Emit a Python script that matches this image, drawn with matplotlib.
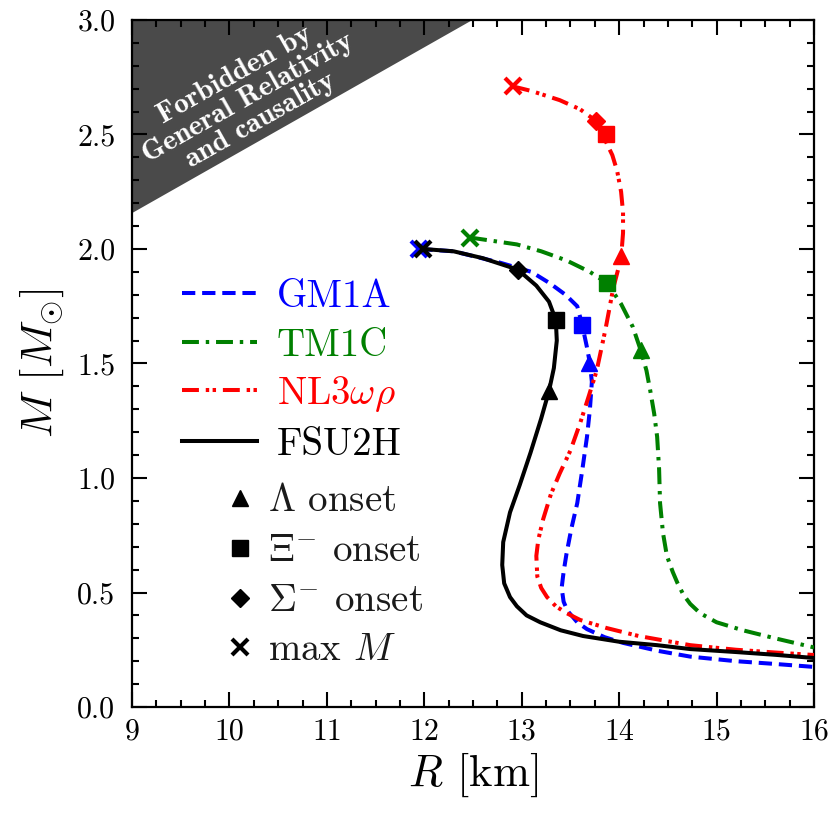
import numpy as np
import matplotlib
matplotlib.use("Agg")
import matplotlib.pyplot as plt

plt.rcParams['font.family'] = 'serif'
plt.rcParams['font.serif'] = ['cmr10']
plt.rcParams['mathtext.fontset'] = 'cm'
plt.rcParams['axes.formatter.use_mathtext'] = True

# ---------------- data ----------------
R_fsu = [11.99, 12.3, 12.6, 12.96, 13.15, 13.28, 13.35, 13.36, 13.33, 13.28, 13.2, 13.09, 12.98,
         12.88, 12.81, 12.80, 12.82, 12.88, 12.95, 13.05, 13.19, 13.40, 13.63, 14.0, 14.39, 14.73,
         15.2, 15.6, 16.0]
M_fsu = [2.00, 1.99, 1.96, 1.91, 1.84, 1.77, 1.69, 1.60, 1.48, 1.38, 1.26, 1.11, 0.97,
         0.85, 0.72, 0.62, 0.54, 0.48, 0.44, 0.40, 0.37, 0.335, 0.31, 0.285, 0.27, 0.253,
         0.24, 0.228, 0.214]

R_gm1 = [11.95, 12.3, 12.78, 13.1, 13.29, 13.45, 13.57, 13.62, 13.67, 13.70, 13.72, 13.70, 13.67,
         13.62, 13.57, 13.51, 13.46, 13.43, 13.41, 13.43, 13.47, 13.57, 13.67, 13.85, 14.04, 14.4,
         14.73, 15.2, 15.6, 16.0]
M_gm1 = [2.00, 1.99, 1.94, 1.90, 1.85, 1.80, 1.75, 1.67, 1.57, 1.50, 1.42, 1.30, 1.18,
         1.03, 0.89, 0.78, 0.67, 0.59, 0.52, 0.46, 0.42, 0.37, 0.34, 0.305, 0.28, 0.245,
         0.22, 0.20, 0.188, 0.175]

R_tm1 = [12.47, 12.95, 13.2, 13.46, 13.7, 13.88, 14.02, 14.14, 14.22, 14.28, 14.32, 14.36, 14.39,
         14.41, 14.42, 14.45, 14.49, 14.55, 14.60, 14.66, 14.73, 14.83, 15.0, 15.27, 15.6, 16.0]
M_tm1 = [2.05, 2.02, 1.99, 1.95, 1.90, 1.85, 1.76, 1.66, 1.56, 1.47, 1.38, 1.28, 1.18,
         1.04, 0.89, 0.76, 0.66, 0.59, 0.54, 0.49, 0.45, 0.41, 0.37, 0.335, 0.30, 0.26]

R_nl3 = [12.91, 13.1, 13.39, 13.6, 13.76, 13.84, 13.93, 13.98, 14.02, 14.04, 14.04, 14.02, 13.94,
         13.86, 13.77, 13.69, 13.60, 13.50, 13.39, 13.30, 13.22, 13.17, 13.15, 13.16, 13.20, 13.26,
         13.35, 13.46, 13.6, 13.87, 14.2, 14.73, 15.2, 15.6, 16.0]
M_nl3 = [2.71, 2.69, 2.65, 2.61, 2.56, 2.49, 2.41, 2.34, 2.25, 2.16, 2.07, 1.96, 1.83,
         1.65, 1.47, 1.36, 1.24, 1.12, 1.02, 0.93, 0.82, 0.73, 0.66, 0.57, 0.52, 0.48,
         0.44, 0.41, 0.38, 0.345, 0.31, 0.27, 0.25, 0.238, 0.227]

# onset markers: (R, M)
lam_R = {'GM1A': 13.69, 'TM1C': 14.22, 'NL3': 14.02, 'FSU2H': 13.28}
lam_M = {'GM1A': 1.50, 'TM1C': 1.56, 'NL3': 1.97, 'FSU2H': 1.38}
xi_R = {'GM1A': 13.62, 'TM1C': 13.88, 'NL3': 13.86, 'FSU2H': 13.35}
xi_M = {'GM1A': 1.67, 'TM1C': 1.85, 'NL3': 2.50, 'FSU2H': 1.69}
sig_R = {'NL3': 13.76, 'FSU2H': 12.96}
sig_M = {'NL3': 2.56, 'FSU2H': 1.91}
max_R = {'GM1A': 11.95, 'TM1C': 12.47, 'NL3': 12.91, 'FSU2H': 11.99}
max_M = {'GM1A': 2.00, 'TM1C': 2.05, 'NL3': 2.71, 'FSU2H': 2.00}

forb_R = [9.0, 12.48]
forb_M = [2.16, 3.0]

series = ['GM1A', 'TM1C', 'NL3', 'FSU2H']
series_labels = ['GM1A', 'TM1C', r'NL3$\omega\rho$', 'FSU2H']
marker_labels = [r'$\Lambda$ onset', r'$\Xi^{-}$ onset', r'$\Sigma^{-}$ onset', r'max $M$']

# ---------------- figure ----------------
W = 830
fig = plt.figure(figsize=(8.3, 8.3), dpi=100)
AX_L, AX_R, AX_T, AX_B = 132, 814, 20, 707
ax = fig.add_axes([AX_L / W, 1 - AX_B / W, (AX_R - AX_L) / W, (AX_B - AX_T) / W])


def axx(px):
    return (px - AX_L) / (AX_R - AX_L)


def axy(py):
    return (AX_B - py) / (AX_B - AX_T)


ax.fill_between(forb_R, forb_M, [3.0, 3.0], color='#4a4a4a', lw=0, zorder=1)
ax.text(10.19, 2.66, "Forbidden by\nGeneral Relativity\nand causality", family='cmb10',
        fontsize=21, color='white', rotation=29.5, ha='center', va='center',
        multialignment='center', rotation_mode='anchor', linespacing=1.0, zorder=2)

lw = 2.9
styles = {
    'GM1A': dict(color='blue', ls=(0, (3.3, 1.7))),
    'TM1C': dict(color='green', ls=(0, (4.2, 1.7, 0.85, 1.7))),
    'NL3': dict(color='red', ls=(0, (4.2, 1.7, 0.85, 0.85, 0.85, 1.7))),
    'FSU2H': dict(color='black', ls='-'),
}
curves = {'GM1A': (R_gm1, M_gm1), 'TM1C': (R_tm1, M_tm1), 'NL3': (R_nl3, M_nl3),
          'FSU2H': (R_fsu, M_fsu)}

for k in series:
    R, M = curves[k]
    ax.plot(R, M, color=styles[k]['color'], ls=styles[k]['ls'], lw=lw, zorder=3)

ms = 12
for k in series:
    c = styles[k]['color']
    ax.plot(lam_R[k], lam_M[k], marker='^', color=c, ms=ms, ls='none', zorder=5)
    ax.plot(xi_R[k], xi_M[k], marker='s', color=c, ms=ms, ls='none', zorder=5)
    if k in sig_R:
        ax.plot(sig_R[k], sig_M[k], marker='D', color=c, ms=9, ls='none', zorder=5)
    ax.plot(max_R[k], max_M[k], marker='x', color=c, ms=12, mew=3, ls='none', zorder=6)

ax.set_xlim(9, 16)
ax.set_ylim(0, 3)
ax.set_xticks(np.arange(9, 16.1, 1))
ax.set_yticks(np.arange(0, 3.01, 0.5))
ax.set_xticks(np.arange(9, 16.01, 0.25), minor=True)
ax.set_yticks(np.arange(0, 3.01, 0.1), minor=True)
ax.set_xticklabels([str(v) for v in range(9, 17)])
ax.set_yticklabels(['%.1f' % v for v in np.arange(0, 3.01, 0.5)])
ax.tick_params(which='both', direction='in', top=True, right=True, width=1.5)
ax.tick_params(which='major', length=10.5, labelsize=21.5)
ax.tick_params(axis='x', which='major', pad=8)
ax.tick_params(axis='y', which='major', pad=12)
ax.tick_params(which='minor', length=5)
for s in ax.spines.values():
    s.set_linewidth(1.6)

ax.set_xlabel(r'$R$ [km]', fontsize=32, labelpad=4)
ax.set_ylabel(r'$M$ [$M_{\odot}$]', fontsize=32, labelpad=8)

# ---- legend 1: line styles (drawn in axes coordinates) ----
handle_y = [293, 342, 390, 441]
for k, lab, hy in zip(series, series_labels, handle_y):
    c = styles[k]['color']
    ax.plot([axx(182), axx(257)], [axy(hy), axy(hy)], transform=ax.transAxes,
            color=c, ls=styles[k]['ls'], lw=lw, clip_on=False, zorder=7)
    ax.text(axx(277), axy(hy + 14), lab, transform=ax.transAxes, color=c,
            fontsize=28, ha='left', va='baseline', zorder=7)

# ---- legend 2: markers ----
mk_y = [498, 548, 598, 647]
mk_style = [dict(marker='^', ms=12), dict(marker='s', ms=12), dict(marker='D', ms=9),
            dict(marker='x', ms=12, mew=3)]
for lab, my, st in zip(marker_labels, mk_y, mk_style):
    ax.plot([axx(240)], [axy(my)], transform=ax.transAxes, color='black', ls='none',
            clip_on=False, zorder=7, **st)
    ax.text(axx(268), axy(my + 13), lab, transform=ax.transAxes, color='#1a1a1a',
            fontsize=28, ha='left', va='baseline', zorder=7)

fig.savefig('out.png', dpi=100)
